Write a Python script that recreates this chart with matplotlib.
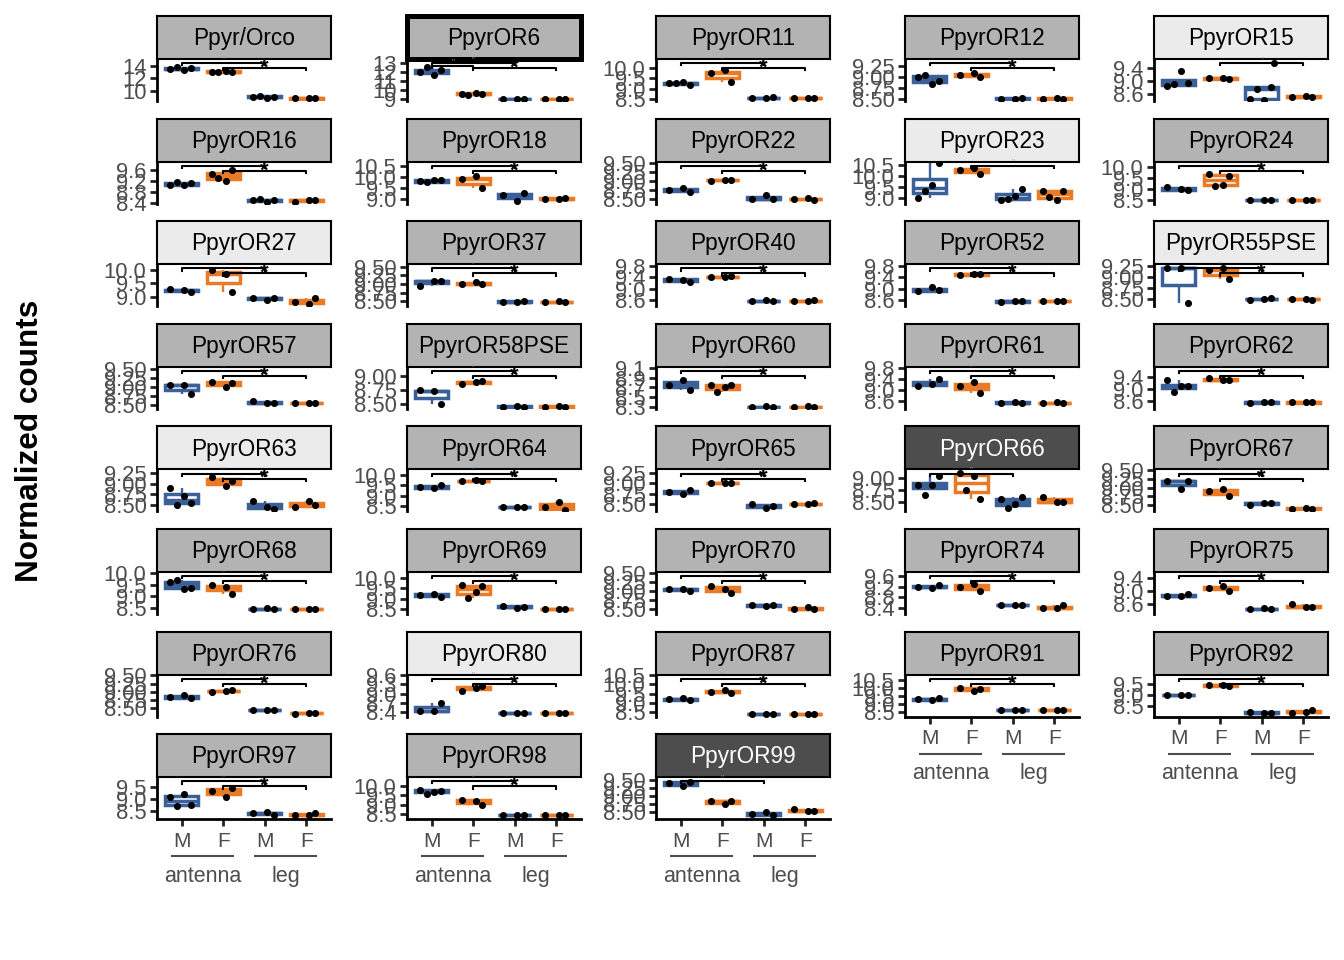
import matplotlib
matplotlib.use("Agg")
import matplotlib.pyplot as plt
import matplotlib.transforms as mtrans
from matplotlib.patches import Rectangle
import numpy as np

plt.rcParams['font.family'] = ['Liberation Sans', 'DejaVu Sans']

# ---------------- data ----------------
genes = ["Ppyr/Orco", "PpyrOR6", "PpyrOR11", "PpyrOR12", "PpyrOR15",
         "PpyrOR16", "PpyrOR18", "PpyrOR22", "PpyrOR23", "PpyrOR24",
         "PpyrOR27", "PpyrOR37", "PpyrOR40", "PpyrOR52", "PpyrOR55PSE",
         "PpyrOR57", "PpyrOR58PSE", "PpyrOR60", "PpyrOR61", "PpyrOR62",
         "PpyrOR63", "PpyrOR64", "PpyrOR65", "PpyrOR66", "PpyrOR67",
         "PpyrOR68", "PpyrOR69", "PpyrOR70", "PpyrOR74", "PpyrOR75",
         "PpyrOR76", "PpyrOR80", "PpyrOR87", "PpyrOR91", "PpyrOR92",
         "PpyrOR97", "PpyrOR98", "PpyrOR99"]

groups = ["M", "F", "M", "F"]
tissues = ["antenna", "leg"]

m_antenna = [
    [13.5, 13.3, 13.6, 13.8], [12.0, 11.7, 12.2, 12.5], [9.25, 9.3, 9.2, 9.25],
    [9.0, 8.85, 8.9, 9.05], [8.85, 9.3, 8.95, 8.9],
    [9.05, 9.05, 9.12, 9.18], [9.8, 9.85, 9.85, 9.75], [8.75, 8.8, 8.7],
    [9.0, 9.6, 10.6, 9.3], [9.1, 9.0, 8.95],
    [9.3, 9.25, 9.2], [8.95, 9.1, 9.1], [9.35, 9.3, 9.25], [8.9, 9.05, 8.95],
    [9.2, 9.2, 8.42],
    [9.05, 9.05, 8.8], [8.75, 8.72, 8.5], [8.75, 8.85, 8.65], [9.15, 9.2, 9.4],
    [9.3, 9.1, 9.1, 8.9],
    [8.9, 8.7, 8.55, 8.5], [9.4, 9.35, 9.5], [8.8, 8.75, 8.83],
    [8.85, 8.85, 9.05, 8.65], [9.2, 8.95, 9.2],
    [9.6, 9.3, 9.35, 9.7], [9.2, 9.25, 9.1], [9.05, 9.05, 9.0], [9.2, 9.15, 9.25],
    [8.85, 8.85, 8.9],
    [8.85, 8.9, 8.8], [8.45, 8.45, 8.7], [9.2, 9.25, 9.15], [9.3, 9.25, 9.35],
    [8.98, 9.0, 9.02],
    [9.1, 9.2, 8.75, 8.7], [9.8, 9.7, 9.75, 9.55], [9.4, 9.3, 9.45],
]
f_antenna = [
    [13.1, 13.2, 13.0, 13.1], [9.6, 9.7, 9.6, 9.4], [9.75, 9.9, 9.3],
    [9.05, 9.1, 9.0], [9.1, 9.08, 9.05],
    [9.45, 9.2, 9.6, 9.3], [9.9, 10.05, 9.5], [9.0, 9.03, 9.04],
    [10.25, 10.35, 10.1], [9.7, 9.2, 9.6, 9.15],
    [10.0, 9.85, 9.2], [9.0, 9.05, 9.0], [9.4, 9.4, 9.45], [9.48, 9.5, 9.52],
    [9.15, 9.2, 8.95],
    [9.15, 9.0, 9.1], [8.85, 8.88, 8.9], [8.75, 8.7, 8.75, 8.6], [9.15, 9.3, 8.9],
    [9.35, 9.3, 9.3],
    [9.15, 8.95, 9.05], [9.7, 9.75, 9.7], [9.0, 9.02, 9.0],
    [9.1, 9.05, 8.55, 8.75], [8.9, 8.95, 8.75],
    [9.5, 9.4, 9.1], [9.65, 9.3, 9.6, 9.05], [9.15, 9.05, 8.95], [9.2, 9.3, 9.05],
    [9.1, 9.15, 9.0],
    [9.0, 9.03, 9.04], [9.1, 9.2, 9.25], [9.6, 9.7, 9.55], [10.0, 9.8, 9.95],
    [9.45, 9.45, 9.4],
    [9.35, 9.1, 9.45], [9.25, 9.2, 9.0], [8.85, 8.75, 8.85],
]
m_leg = [
    [9.0, 8.9, 9.1, 9.2], [8.98, 9.0, 9.03], [8.53, 8.55, 8.57], [8.49, 8.5, 8.52],
    [8.45, 8.42, 8.8, 8.75, 9.55],
    [8.5, 8.45, 8.5, 8.55], [9.2, 8.9, 9.25], [8.5, 8.6, 8.5],
    [8.9, 9.1, 9.4, 8.95], [8.49, 8.5, 8.52],
    [8.95, 8.9, 8.95], [8.46, 8.48, 8.5], [8.55, 8.6, 8.55], [8.54, 8.56, 8.55],
    [8.49, 8.5, 8.52],
    [8.6, 8.55, 8.55], [8.44, 8.46, 8.45], [8.29, 8.31, 8.3], [8.53, 8.56, 8.55],
    [8.54, 8.56, 8.55],
    [8.6, 8.45, 8.4], [8.44, 8.46, 8.45], [8.5, 8.4, 8.45],
    [8.55, 8.45, 8.6, 8.38], [8.5, 8.55, 8.55],
    [8.45, 8.5, 8.45], [8.65, 8.55, 8.6], [8.6, 8.58, 8.6], [8.5, 8.5, 8.52],
    [8.44, 8.46, 8.45],
    [8.44, 8.46, 8.45], [8.37, 8.39, 8.38], [8.38, 8.41, 8.4], [8.65, 8.6, 8.65],
    [8.25, 8.2, 8.2],
    [8.4, 8.45, 8.35], [8.44, 8.46, 8.45], [8.45, 8.5, 8.4],
]
f_leg = [
    [8.8, 8.85, 8.8], [8.98, 9.0, 9.02], [8.53, 8.56, 8.55], [8.5, 8.52, 8.49],
    [8.5, 8.55, 8.5],
    [8.45, 8.5, 8.5], [9.0, 9.0, 9.05], [8.5, 8.52, 8.48],
    [9.3, 8.9, 9.3, 9.05], [8.5, 8.52, 8.5],
    [8.8, 8.75, 8.95], [8.47, 8.49, 8.46], [8.55, 8.55, 8.6], [8.55, 8.57, 8.55],
    [8.5, 8.51, 8.49],
    [8.54, 8.56, 8.55], [8.44, 8.46, 8.45], [8.29, 8.31, 8.3], [8.54, 8.56, 8.55],
    [8.55, 8.57, 8.55],
    [8.45, 8.6, 8.5], [8.45, 8.7, 8.3], [8.5, 8.5, 8.52], [8.6, 8.5, 8.5],
    [8.39, 8.41, 8.4],
    [8.44, 8.46, 8.45], [8.49, 8.51, 8.5], [8.5, 8.55, 8.5], [8.4, 8.4, 8.5],
    [8.6, 8.5, 8.5],
    [8.34, 8.36, 8.35], [8.37, 8.39, 8.38], [8.38, 8.41, 8.4], [8.6, 8.6, 8.65],
    [8.2, 8.25, 8.3],
    [8.35, 8.35, 8.4], [8.44, 8.46, 8.45], [8.6, 8.55, 8.55],
]

yticks = [
    [10, 12, 14], [9, 10, 11, 12, 13], [8.5, 9.0, 9.5, 10.0], [8.5, 8.75, 9.0, 9.25], [8.6, 9.0, 9.4],
    [8.4, 8.8, 9.2, 9.6], [9.0, 9.5, 10.0, 10.5], [8.5, 8.75, 9.0, 9.25, 9.5], [9.0, 9.5, 10.0, 10.5], [8.5, 9.0, 9.5, 10.0],
    [9.0, 9.5, 10.0], [8.5, 8.75, 9.0, 9.25, 9.5], [8.6, 9.0, 9.4, 9.8], [8.6, 9.0, 9.4, 9.8], [8.5, 8.75, 9.0, 9.25],
    [8.5, 8.75, 9.0, 9.25, 9.5], [8.5, 8.75, 9.0], [8.3, 8.5, 8.7, 8.9, 9.1], [8.6, 9.0, 9.4, 9.8], [8.6, 9.0, 9.4],
    [8.5, 8.75, 9.0, 9.25], [8.5, 9.0, 9.5, 10.0], [8.5, 8.75, 9.0, 9.25], [8.5, 8.75, 9.0], [8.5, 8.75, 9.0, 9.25, 9.5],
    [8.5, 9.0, 9.5, 10.0], [8.5, 9.0, 9.5, 10.0], [8.5, 8.75, 9.0, 9.25, 9.5], [8.4, 8.8, 9.2, 9.6], [8.6, 9.0, 9.4],
    [8.5, 8.75, 9.0, 9.25, 9.5], [8.4, 8.7, 9.0, 9.3, 9.6], [8.5, 9.0, 9.5, 10.0, 10.5], [8.5, 9.0, 9.5, 10.0, 10.5], [8.5, 9.0, 9.5],
    [8.5, 9.0, 9.5], [8.5, 9.0, 9.5, 10.0], [8.5, 8.75, 9.0, 9.25, 9.5],
]

ylim_lo = [8.40, 8.78, 8.40, 8.45, 8.38, 8.38, 8.79, 8.37, 8.75, 8.34,
           8.66, 8.35, 8.38, 8.38, 8.34, 8.39, 8.41, 8.26, 8.33, 8.34,
           8.35, 8.24, 8.32, 8.30, 8.32, 8.24, 8.26, 8.36, 8.18, 8.29,
           8.25, 8.26, 8.25, 8.21, 8.02, 8.16, 8.22, 8.28]
ylim_hi = [15.12, 13.44, 10.44, 9.41, 9.68, 9.91, 10.70, 9.54, 10.65, 10.25,
           10.21, 9.58, 9.86, 9.86, 9.29, 9.56, 9.16, 9.12, 9.83, 9.74,
           9.33, 10.27, 9.34, 9.18, 9.52, 10.04, 10.29, 9.53, 9.75, 9.58,
           9.52, 9.62, 10.53, 10.84, 9.93, 9.91, 10.47, 9.59]

light_strips = {"PpyrOR15", "PpyrOR23", "PpyrOR27", "PpyrOR55PSE", "PpyrOR63", "PpyrOR80"}
dark_strips = {"PpyrOR66", "PpyrOR99"}
thick_strips = {"PpyrOR6"}

default_brackets = [(1, 3), (2, 4)]
special_brackets = {"PpyrOR6": [(1, 3), (1, 2), (2, 4)],
                    "PpyrOR15": [(2, 4)], "PpyrOR23": [(2, 4)],
                    "PpyrOR66": [(1, 3)], "PpyrOR99": [(1, 3)]}
no_star = {"PpyrOR15", "PpyrOR23", "PpyrOR66", "PpyrOR99"}

# ---------------- layout / style ----------------
W, H = 1344, 960
fig = plt.figure(figsize=(W / 100, H / 100), dpi=100)


def px_rect(left, top, w, h):
    return [left / W, 1 - (top + h) / H, w / W, h / H]


COL_LEFT = [157, 407, 656, 905, 1154]
AX_W = 174
ROW_TOP = 16
ROW_PITCH = 102.6
STRIP_H = 43
AX_H = 42

BLUE = "#3B5F97"
ORANGE = "#EA7A26"
box_cols = [BLUE, ORANGE, BLUE, ORANGE]
GREY30 = "#4D4D4D"
JIT = [-0.28, 0.06, 0.22, -0.12, 0.3]
LW = 2.0
BOX_LW = 2.5

n = len(genes)
bottom_idx = {n - 3, n - 2, n - 1, n - 5, n - 4}


def fmt_ticks(ts):
    for d in range(4):
        if all(abs(round(t, d) - t) < 1e-9 for t in ts):
            return [f"{t:.{d}f}" for t in ts]
    return [str(t) for t in ts]


for i, g in enumerate(genes):
    r, c = divmod(i, 5)
    top = ROW_TOP + r * ROW_PITCH

    # strip
    sax = fig.add_axes(px_rect(COL_LEFT[c], top, AX_W, STRIP_H))
    if g in light_strips:
        fc, tc = "#EBEBEB", "black"
    elif g in dark_strips:
        fc, tc = "#4D4D4D", "white"
    else:
        fc, tc = "#B3B3B3", "black"
    sax.set_facecolor(fc)
    sax.set_xticks([])
    sax.set_yticks([])
    for sp in sax.spines.values():
        sp.set_linewidth(3.6 if g in thick_strips else 1.5)
        sp.set_color("black")
    sax.text(0.5, 0.47, g, ha="center", va="center", fontsize=16.3, color=tc,
             transform=sax.transAxes)

    # panel
    ax = fig.add_axes(px_rect(COL_LEFT[c], top + STRIP_H, AX_W, AX_H))
    ax.patch.set_alpha(0)
    lo, hi = ylim_lo[i], ylim_hi[i]
    ax.set_xlim(0.4, 4.6)
    ax.set_ylim(lo, hi)
    span = hi - lo

    data = [m_antenna[i], f_antenna[i], m_leg[i], f_leg[i]]
    for j, vals in enumerate(data):
        x = j + 1
        col = box_cols[j]
        v = np.array(vals, dtype=float)
        q1, med, q3 = np.percentile(v, [25, 50, 75])
        iqr = q3 - q1
        inside = v[(v >= q1 - 1.5 * iqr) & (v <= q3 + 1.5 * iqr)]
        wlo, whi = inside.min(), inside.max()
        ax.plot([x, x], [q3, whi], color=col, lw=1.7, solid_capstyle="butt", zorder=2)
        ax.plot([x, x], [wlo, q1], color=col, lw=1.7, solid_capstyle="butt", zorder=2)
        ax.add_patch(Rectangle((x - 0.4, q1), 0.8, q3 - q1, facecolor="white",
                               edgecolor=col, lw=BOX_LW, zorder=3))
        ax.plot([x - 0.4, x + 0.4], [med, med], color=col, lw=BOX_LW,
                solid_capstyle="butt", zorder=3)
        xs = [x + JIT[k % len(JIT)] for k in range(len(v))]
        ax.scatter(xs, v, s=26, color="black", zorder=5, linewidths=0)

    # significance brackets
    br = special_brackets.get(g, default_brackets)
    b1 = hi - 0.10 * span
    b2 = hi - 0.22 * span
    tip = 0.05 * span
    for k, (x1, x2) in enumerate(br):
        if len(br) == 1 or k == 0:
            yb = b1
        elif (x1, x2) == (2, 4):
            yb = b2
        else:
            yb = b1 - 0.06 * span
        ax.plot([x1, x1, x2, x2], [yb - tip, yb, yb, yb - tip], color="black",
                lw=1.5, clip_on=False, zorder=6)
        if (x1, x2) == (2, 4) and g not in no_star:
            ax.text((x1 + x2) / 2, yb, "*", ha="center", va="center",
                    fontsize=16, fontweight="bold", color="black",
                    clip_on=False, zorder=7)
        else:
            ax.text((x1 + x2) / 2, yb, '"', ha="center", va="bottom",
                    fontsize=6, color="#9A9A9A", clip_on=False, zorder=7)

    # axes styling
    for s in ["top", "right"]:
        ax.spines[s].set_visible(False)
    ax.spines["left"].set_linewidth(LW)
    ax.spines["left"].set_color("black")
    ax.set_yticks(yticks[i])
    ax.set_yticklabels(fmt_ticks(yticks[i]))
    ax.tick_params(axis="y", length=5, width=LW, color="#222222",
                   labelsize=15.8, labelcolor=GREY30, pad=2.5)

    if i in bottom_idx:
        ax.spines["bottom"].set_linewidth(LW)
        ax.spines["bottom"].set_color("black")
        ax.set_xticks([1, 2, 3, 4])
        ax.set_xticklabels(groups)
        ax.tick_params(axis="x", length=5, width=LW, color="#222222",
                       labelsize=15, labelcolor=GREY30, pad=4)
        ax_bottom_px = top + STRIP_H + AX_H
        trans = mtrans.blended_transform_factory(ax.transData, fig.transFigure)
        yl = 1 - (ax_bottom_px + 37) / H
        yt = 1 - (ax_bottom_px + 57) / H
        for k, (xa, xb) in enumerate([(0.73, 2.27), (2.73, 4.27)]):
            ax.plot([xa, xb], [yl, yl], color=GREY30, lw=1.5, transform=trans,
                    clip_on=False, solid_capstyle="butt")
            ax.text((xa + xb) / 2, yt, tissues[k], transform=trans, ha="center",
                    va="center", fontsize=15.5, color=GREY30)
    else:
        ax.spines["bottom"].set_visible(False)
        ax.set_xticks([])

fig.text(30 / W, 1 - 441 / H, "Normalized counts", rotation=90, fontsize=22.7,
         fontweight="bold", ha="center", va="center", color="black")

fig.savefig("out.png", dpi=100, facecolor="white")
